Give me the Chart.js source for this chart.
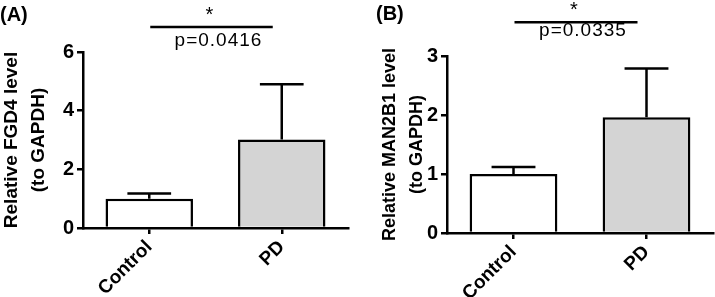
<!DOCTYPE html>
<html><head><meta charset="utf-8">
<script src="https://cdn.jsdelivr.net/npm/chart.js@4.4.1/dist/chart.umd.min.js"></script>
<style>
html,body{margin:0;padding:0;background:#fff;}
#wrap{position:relative;width:715px;height:297px;overflow:hidden;background:#fff;}
#cA{position:absolute;left:0;top:0;}
#cB{position:absolute;left:360px;top:0;}
</style></head><body>
<div id="wrap"><canvas id="cA" width="360" height="297"></canvas><canvas id="cB" width="355" height="297"></canvas></div>
<script>
const categories = ['Control', 'PD'];
const fgd4Mean = [1.0, 3.02];
const fgd4Sem = [0.18, 1.88];
const man2b1Mean = [1.0, 1.96];
const man2b1Sem = [0.12, 0.83];
const fgd4Ticks = [0, 2, 4, 6];
const man2b1Ticks = [0, 1, 2, 3];
const pValues = ['p=0.0416', 'p=0.0335'];
const sigStars = ['*', '*'];
const sigLevels = [6.85, 3.57];
const panelLabels = ['(A)', '(B)'];
const yTitles = [['Relative FGD4 level', '(to GAPDH)'], ['Relative MAN2B1 level', '(to GAPDH)']];
const barColors = ['#ffffff', '#d4d4d4'];

const FONT = "'Liberation Sans', Arial, sans-serif";

function makeChart(id, p) {
  const decor = {
    id: 'decor',
    afterDatasetsDraw(chart) {
      const ctx = chart.ctx;
      const xs = chart.scales.x, ys = chart.scales.y;
      const meta = chart.getDatasetMeta(0);
      ctx.save();
      ctx.strokeStyle = '#000';
      ctx.lineWidth = 2.5;
      ctx.lineCap = 'butt';
      p.mean.forEach((m, i) => {
        const x = xs.getPixelForValue(i);
        const yT = ys.getPixelForValue(m);
        const yE = ys.getPixelForValue(m + p.sem[i]);
        const half = meta.data[i].width * 0.25;
        ctx.beginPath();
        ctx.moveTo(x, yT); ctx.lineTo(x, yE);
        ctx.moveTo(x - half, yE); ctx.lineTo(x + half, yE);
        ctx.stroke();
      });
      // significance bar
      const x0 = xs.getPixelForValue(0), x1 = xs.getPixelForValue(1);
      const ySig = ys.getPixelForValue(p.sig);
      ctx.beginPath();
      ctx.moveTo(x0 + 1, ySig); ctx.lineTo(x1 - 9, ySig);
      ctx.stroke();
      ctx.fillStyle = '#000';
      ctx.textAlign = 'center';
      ctx.textBaseline = 'middle';
      ctx.font = '20px ' + FONT;
      ctx.fillText(p.star, (x0 + x1) / 2 - 6, ySig - 12);
      ctx.textBaseline = 'alphabetic';
      ctx.font = '19px ' + FONT;
      try { ctx.letterSpacing = '1px'; } catch (e) {}
      ctx.fillText(p.pval, (x0 + x1) / 2 + 3, ySig + p.pGap);
      try { ctx.letterSpacing = '0px'; } catch (e) {}
      // panel label
      ctx.textAlign = 'left';
      ctx.textBaseline = 'middle';
      ctx.font = 'bold 20px ' + FONT;
      ctx.fillText(p.label, p.labelX, p.labelY);
      ctx.restore();
    }
  };
  return new Chart(document.getElementById(id), {
    type: 'bar',
    data: {
      labels: categories,
      datasets: [{
        data: p.mean,
        backgroundColor: barColors,
        borderColor: '#000',
        borderWidth: 2.5,
        borderSkipped: 'start',
        barPercentage: 0.66,
        categoryPercentage: 1.0
      }]
    },
    options: {
      responsive: false,
      animation: false,
      devicePixelRatio: 1,
      layout: { padding: { left: 0, top: p.top, right: p.right, bottom: 0 } },
      plugins: { legend: { display: false }, tooltip: { enabled: false } },
      scales: {
        x: {
          offset: true,
          grid: { display: true, offset: false, drawOnChartArea: false, drawTicks: true, tickLength: 6, color: '#000', lineWidth: 2.5 },
          border: { display: true, color: '#000', width: 2.5 },
          ticks: { color: '#000', font: { family: FONT, size: 19, weight: 'bold' }, minRotation: 45, maxRotation: 45, padding: 2 },
          afterFit: s => { s.height = p.xh; }
        },
        y: {
          min: 0,
          max: p.ticks[p.ticks.length - 1],
          afterBuildTicks: s => { s.ticks = p.ticks.map(v => ({ value: v })); },
          grid: { display: true, drawOnChartArea: false, drawTicks: true, tickLength: 6, color: '#000', lineWidth: 2.5 },
          border: { display: true, color: '#000', width: 2.5 },
          ticks: { color: '#000', font: { family: FONT, size: 20, weight: 'bold' }, padding: 3 },
          title: {
            display: true,
            text: p.title,
            color: '#000',
            font: { family: FONT, size: p.titleSize, weight: 'bold', lineHeight: 27 / p.titleSize },
            padding: { top: p.titlePad, bottom: 0 }
          },
          afterFit: s => { s.width = p.yw; }
        }
      }
    },
    plugins: [decor]
  });
}

makeChart('cA', {
  mean: fgd4Mean, sem: fgd4Sem, ticks: fgd4Ticks, title: yTitles[0], titleSize: 19,
  sig: sigLevels[0], star: sigStars[0], pval: pValues[0], pGap: 19,
  label: panelLabels[0], labelX: 0, labelY: 15,
  top: 52, right: 12, xh: 69, yw: 83, titlePad: -1.5
});
makeChart('cB', {
  mean: man2b1Mean, sem: man2b1Sem, ticks: man2b1Ticks, title: yTitles[1], titleSize: 18,
  sig: sigLevels[1], star: sigStars[1], pval: pValues[1], pGap: 14,
  label: panelLabels[1], labelX: 16, labelY: 14,
  top: 56, right: 2, xh: 64, yw: 87, titlePad: 16.5
});
</script>
</body></html>
